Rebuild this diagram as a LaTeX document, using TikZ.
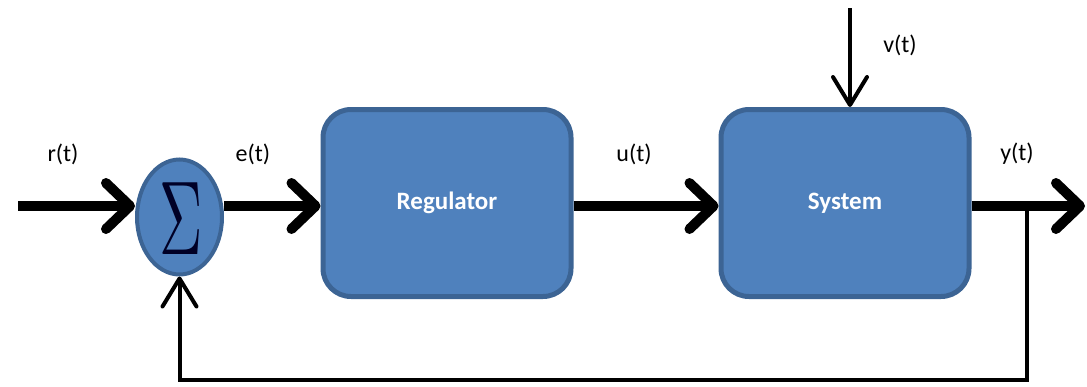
\documentclass[tikz,border=0pt]{standalone}
\usepackage{fontspec}
\setmainfont{Carlito}
\usetikzlibrary{positioning, arrows.meta, shapes.geometric, calc}
\definecolor{blockfill}{HTML}{4F81BD}
\definecolor{blockedge}{HTML}{3C6494}

\begin{document}
\begin{tikzpicture}[x=1pt,y=-1pt,
                    block/.style={draw=blockedge,fill=blockfill,line width=5pt,rounded corners=28pt,
                    minimum width=248pt,minimum height=187pt,inner sep=0pt,
                    text=white,font=\fontsize{25}{28}\selectfont\bfseries},
                    summer/.style={ellipse,draw=blockedge,fill=blockfill,line width=4pt,
                    minimum width=85pt,minimum height=115pt,inner sep=0pt},
                    signal/.style={line width=10pt,-{Straight Barb[length=24pt,width=46pt,round]}},
                    thinsig/.style={line width=4pt,-{Straight Barb[length=28pt,width=34pt,round]}},
                    lbl/.style={font=\fontsize{24}{28}\selectfont,inner sep=0pt}]
        \useasboundingbox (0,0) rectangle (1087,386);
        % blocks
        \node[summer] (sum) at (179.5,217) {};
        \node[text=black!85!blue] (sigma) at (181,219) {\scalebox{6}[10.5]{$\Sigma$}};
        \node[block] (reg) at (447,203) {Regulator};
        \node[block] (sys) at (845,203) {System};
        % free ends
        \coordinate (rin) at (18,206);
        \coordinate (yout) at (1085,206);
        \coordinate (vin) at (850,8);
        \coordinate (branch) at (1027,206);
        \coordinate (fb) at (1027,380);
        % signals
        \draw[signal] (rin) -- (rin -| sum.west);
        \draw[signal] (sum.east |- rin) -- (reg.west |- rin);
        \draw[signal] (reg.east |- rin) -- (sys.west |- rin);
        \draw[signal] (sys.east |- rin) -- (yout);
        \draw[thinsig] (vin) -- (vin |- sys.north);
        \draw[thinsig] (branch) -- (fb) -| (sum.south);
        % labels
        \node[lbl] (rlab) at (63,154) {r(t)};
        \node[lbl] (elab) at (253,154) {e(t)};
        \node[lbl] (ulab) at (634,154) {u(t)};
        \node[lbl] (vlab) at (900,45) {v(t)};
        \node[lbl] (ylab) at (1017,154) {y(t)};
\end{tikzpicture}
\end{document}
